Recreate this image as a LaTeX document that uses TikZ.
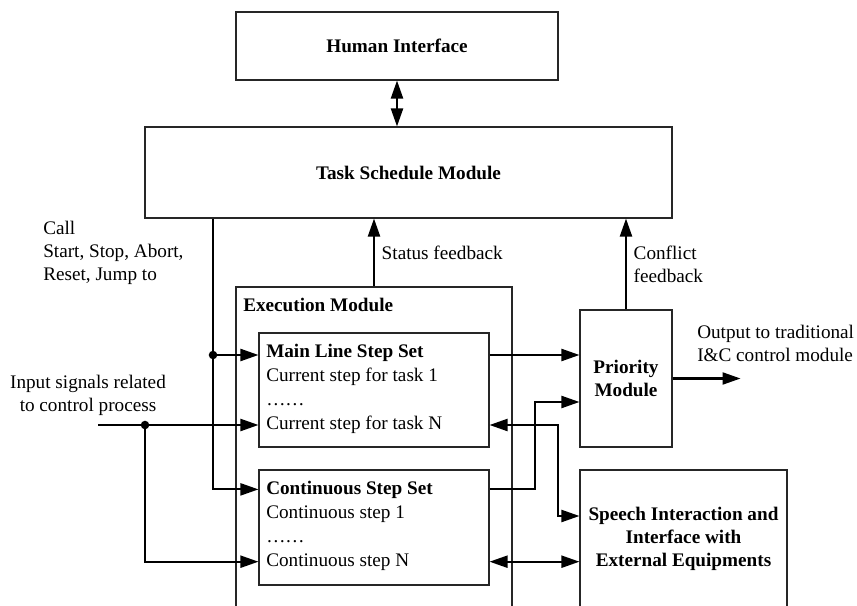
\documentclass[tikz,border=0pt]{standalone}
\usepackage{fontspec}
\setmainfont{Liberation Serif}
\usetikzlibrary{arrows.meta}

\begin{document}
\begin{tikzpicture}[
x=0.75pt, y=-0.75pt,
font=\fontsize{14.4}{17.3}\selectfont,
modnode/.style={rectangle, draw=black!85, line width=0.8pt, inner sep=0pt},
txtnode/.style={inner sep=0pt, anchor=base west},
flow/.style={line width=1.6pt},
arr/.style={flow, -{Triangle[length=13.5pt, width=9pt]}},
dblarr/.style={flow, {Triangle[length=13.5pt, width=9pt]}-{Triangle[length=13.5pt, width=9pt]}},
]
\useasboundingbox (0,0) rectangle (857,606);
\clip (0,0) rectangle (857,606);

%Nodes
\node[modnode, minimum width=241.5pt, minimum height=51pt]     (humanif) at (397,46)      {\textbf{Human Interface}};
\node[modnode, minimum width=395.25pt, minimum height=68.25pt] (tsm)     at (408.5,172.5) {\textbf{Task Schedule Module}};
\node[modnode, minimum width=207pt, minimum height=279.75pt]   (exec)    at (374,473.5)   {};
\node[inner sep=0pt, anchor=west] (execlbl) at (243,305) {\textbf{Execution Module}};

\node[modnode, minimum width=172.5pt, minimum height=85.5pt] (mainset) at (374,390) {};
\node[txtnode] (mltitle) at (266,357) {\textbf{Main Line Step Set}};
\node[txtnode] (ml1)     at (266,381) {Current step for task 1};
\node[txtnode] (mldots)  at (266,405) {……};
\node[txtnode] (mlN)     at (266,429) {Current step for task N};

\node[modnode, minimum width=172.5pt, minimum height=86.25pt] (contset) at (374,527.5) {};
\node[txtnode] (ctitle) at (266,494) {\textbf{Continuous Step Set}};
\node[txtnode] (c1)     at (266,518) {Continuous step 1};
\node[txtnode] (cdots)  at (266,542) {……};
\node[txtnode] (cN)     at (266,566) {Continuous step N};

\node[modnode, minimum width=69pt, minimum height=102.75pt, align=center] (prio) at (626,378.5) {\textbf{Priority}\\\textbf{Module}};
\node[modnode, minimum width=155.25pt, minimum height=142.5pt] (speech) at (683.5,565) {};
\node[inner sep=0pt, align=center] (speechlbl) at (683.5,539) {\textbf{Speech Interaction and}\\\textbf{Interface with}\\\textbf{External Equipments}};

\node[inner sep=0pt, anchor=west, align=left] (calllbl) at (43,253) {Call\\Start, Stop, Abort,\\Reset, Jump to};
\node[inner sep=0pt, align=center] (inlbl) at (88,395) {Input signals related\\to control process};
\node[inner sep=0pt, anchor=west, align=left] (outlbl) at (697,343) {Output to traditional\\I\&C control module};

\coordinate (calldot) at (213,355);
\coordinate (instart) at (98,425);
\coordinate (indot)   at (145,425);
\coordinate (jmerge)  at (535,402);
\coordinate (jspeech) at (558,516);

%Lines
\draw[dblarr] (humanif.south) -- (humanif.south |- tsm.north);
\draw[arr] (exec.north -| mainset) -- (tsm.south -| mainset) node[midway, right, inner sep=5pt] {Status feedback};
\draw[arr] (prio.north) -- (prio.north |- tsm.south) node[midway, right, align=left, inner sep=5pt] {Conflict\\feedback};
\draw[arr] (prio.east) -- ++(68,0);

\draw[arr] (tsm.south -| calldot) |- (ctitle -| contset.west);
\draw[arr] (calldot) -- (calldot -| mainset.west);
\fill (calldot) circle (3.2pt);

\draw[arr] (instart) -- (instart -| mainset.west);
\draw[arr] (indot) |- (cN -| contset.west);
\fill (indot) circle (3.2pt);

\draw[arr] (calldot -| mainset.east) -- (calldot -| prio.west);
\draw[arr] (ctitle -| contset.east) -| (jmerge) -- (jmerge -| prio.west);
\draw[dblarr] (instart -| mainset.east) -| (jspeech) -- (jspeech -| speech.west);
\draw[dblarr] (cN -| contset.east) -- (cN -| speech.west);
\end{tikzpicture}
\end{document}
